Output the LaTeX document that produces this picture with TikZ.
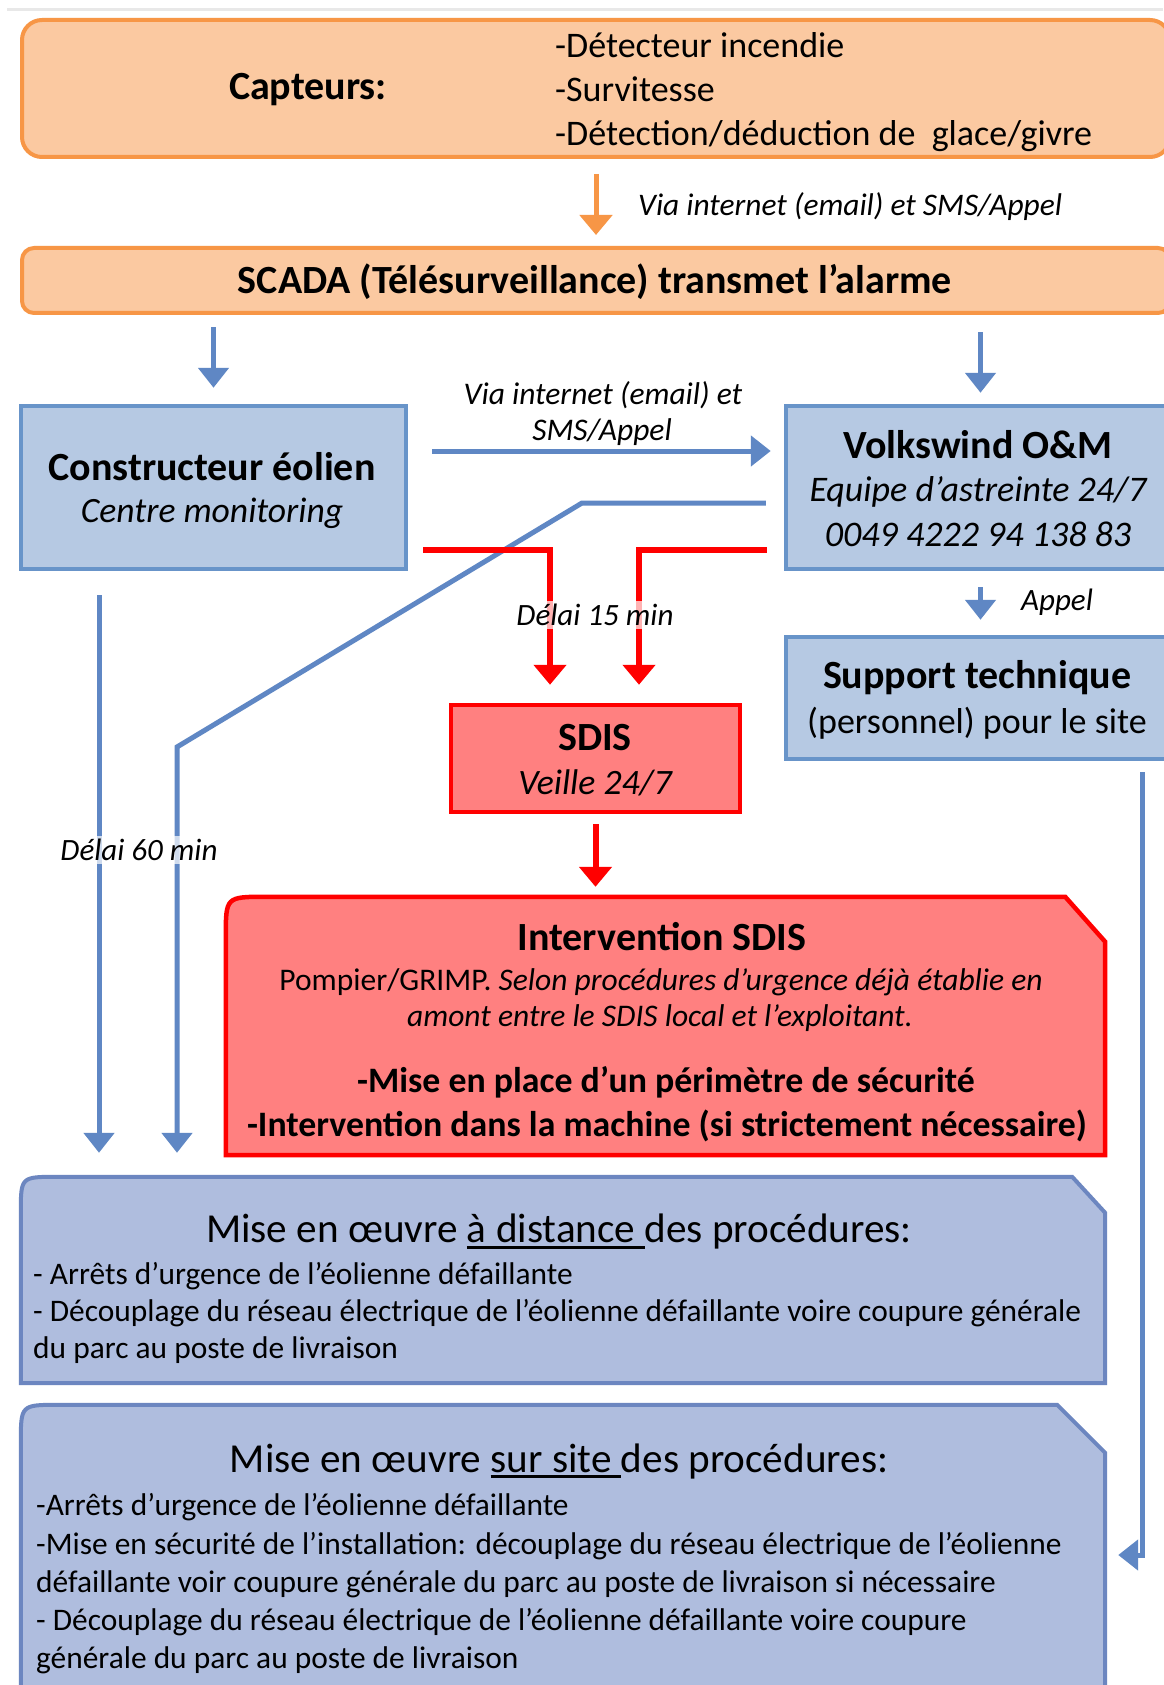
\documentclass[tikz,border=0pt]{standalone}
\usepackage{fontspec}
\setmainfont{Carlito}
\usetikzlibrary{arrows.meta}
\definecolor{orangefill}{HTML}{FBC9A1}
\definecolor{orangeline}{HTML}{F79646}
\definecolor{bluefill}{HTML}{B6C9E3}
\definecolor{blueline}{HTML}{6894C9}
\definecolor{lavfill}{HTML}{AFBDDE}
\definecolor{lavline}{HTML}{6C86C0}
\definecolor{wire}{HTML}{5F87C4}
\definecolor{redfill}{HTML}{FF8080}
\definecolor{alarmred}{HTML}{FF0000}
\definecolor{rulegray}{HTML}{E8E8E8}
\newcommand{\fsz}[2]{\fontsize{#1}{#2}\selectfont}
\newcommand{\undl}[1]{\setbox0=\hbox{#1}\rlap{\rule[-6pt]{\wd0}{3pt}}\box0}

\begin{document}
\begin{tikzpicture}[x=1pt,y=-1pt,
    obox/.style={draw=orangeline,fill=orangefill,line width=4pt,rounded corners=20pt,inner sep=0pt},
    bbox/.style={draw=blueline,fill=bluefill,line width=4.5pt,inner sep=0pt},
    rbox/.style={draw=alarmred,fill=redfill,line width=4.5pt,inner sep=0pt},
    lbox/.style={draw=lavline,fill=lavfill,line width=4pt},
    frame/.style={inner sep=0pt},
    txt/.style={inner sep=0pt,text=black},
    veil/.style={fill=white,fill opacity=0.7,text opacity=1,inner sep=3pt},
    oarrow/.style={draw=orangeline,line width=5pt,-{Triangle[length=20pt,width=32pt]}},
    barrow/.style={draw=wire,line width=5pt,-{Triangle[length=20pt,width=30pt]}},
    rarrow/.style={draw=alarmred,line width=6pt,-{Triangle[length=20pt,width=32pt]}}]
  \useasboundingbox (0,0) rectangle (1163,1685);
  \fill[white] (0,0) rectangle (1163,1685);
  \draw[rulegray,line width=3pt] (7,10) -- (1163,10);

  % boxes
  \node[obox,minimum width=1148pt,minimum height=137pt] (capt) at (596,88.5) {};
  \node[obox,rounded corners=12pt,minimum width=1148pt,minimum height=65pt] (scada) at (596,280.5) {};
  \node[bbox,minimum width=385pt,minimum height=163pt] (constr) at (213.5,487.5) {};
  \node[bbox,minimum width=389pt,minimum height=163pt] (volks) at (980.5,487.5) {};
  \node[bbox,minimum width=389pt,minimum height=122pt] (support) at (980.5,698) {};
  \node[rbox,minimum width=289pt,minimum height=107pt] (sdis) at (595.5,758.5) {};
  \node[frame,minimum width=879pt,minimum height=258pt] (interv) at (665.5,1026) {};
  \node[frame,minimum width=1084pt,minimum height=206pt] (dist) at (563,1280) {};
  \node[frame,minimum width=1084pt,minimum height=295pt] (site) at (563,1552.5) {};
  \draw[rbox] (interv.south west) -- ([yshift=-40pt]interv.north west)
    .. controls (interv.north west) .. ([xshift=40pt]interv.north west)
    -- ([xshift=-40pt]interv.north east) -- ([yshift=-45pt]interv.north east)
    -- (interv.south east) -- cycle;
  \draw[lbox] (dist.south west) -- ([yshift=-36pt]dist.north west)
    .. controls (dist.north west) .. ([xshift=36pt]dist.north west)
    -- ([xshift=-33pt]dist.north east) -- ([yshift=-36pt]dist.north east)
    -- (dist.south east) -- cycle;
  \draw[lbox] (site.south west) -- ([yshift=-38pt]site.north west)
    .. controls (site.north west) .. ([xshift=38pt]site.north west)
    -- ([xshift=-48pt]site.north east) -- ([yshift=-48pt]site.north east)
    -- (site.south east) -- cycle;

  % connectors
  \coordinate (lft) at (99,0);
  \coordinate (bendA) at (582,503);
  \coordinate (bendB) at (177,747);
  \coordinate (rgt) at (1142,1555);
  \draw[oarrow,shorten <=15pt,shorten >=11pt] (capt) -- (scada);
  \draw[barrow,shorten <=12pt,shorten >=16pt] (scada.south -| constr) -- (constr);
  \draw[barrow,shorten <=17pt,shorten >=11pt] (scada.south -| volks) -- (volks);
  \draw[barrow,shorten <=24pt,shorten >=13pt] ([yshift=36.5pt]constr.east) -- ([yshift=36.5pt]volks.west);
  \draw[barrow,shorten <=18pt,shorten >=24pt] ([yshift=-15.5pt]volks.west) -- (bendA) -- (bendB) -- (dist.north -| bendB);
  \draw[barrow,shorten <=24pt,shorten >=24pt] (constr.south -| lft) -- (dist.north -| lft);
  \draw[barrow,shorten <=16pt,shorten >=15pt] (volks) -- (support);
  \draw[barrow,shorten <=11pt,shorten >=13pt] (support.south -| rgt) -- (rgt) -- (site.east |- rgt);
  \draw[rarrow,shorten <=15pt,shorten >=18pt] ([yshift=-62.5pt]constr.east) -| ([xshift=-45.5pt]sdis.north);
  \draw[rarrow,shorten <=17pt,shorten >=18pt] ([yshift=-62.5pt]volks.west) -| ([xshift=43.5pt]sdis.north);
  \draw[rarrow,shorten <=10pt,shorten >=10pt] (sdis) -- (sdis |- interv.north);

  % texts
  \node[txt,font=\fsz{40}{48}\bfseries] (captT) at (308,90) {Capteurs:};
  \node[txt,anchor=west,align=left,font=\fsz{36}{44}] (captL) at (555,92)
    {-Détecteur incendie\\-Survitesse\\-Détection/déduction de\ \ glace/givre};
  \node[txt,anchor=west,font=\fsz{31.4}{37}\itshape] (viaA) at (638,207) {Via internet (email) et SMS/Appel};
  \node[txt,font=\fsz{40}{48}\bfseries] (scadaT) at (595,282) {SCADA (Télésurveillance) transmet l’alarme};
  \node[txt,font=\fsz{40}{48}\bfseries] (constrT) at (212,467) {Constructeur éolien};
  \node[txt,font=\fsz{35.6}{42}\itshape] (constrS) at (212,513) {Centre monitoring};
  \node[txt,font=\fsz{31.5}{37}\itshape] (viaB) at (603,395) {Via internet (email) et};
  \node[txt,font=\fsz{31.5}{37}\itshape] (viaC) at (602,432) {SMS/Appel};
  \node[txt,font=\fsz{40}{48}\bfseries] (volksT) at (978,445) {Volkswind O\&M};
  \node[txt,font=\fsz{36}{43}\itshape] (volksS) at (978,492) {Equipe d’astreinte 24/7};
  \node[txt,font=\fsz{36}{43}\itshape] (volksP) at (978,534) {0049 4222 94 138 83};
  \node[txt,veil,font=\fsz{31}{37}\itshape] (delaiA) at (595,615) {Délai 15 min};
  \node[txt,font=\fsz{31}{37}\itshape] (appel) at (1057,602) {Appel};
  \node[txt,font=\fsz{40}{48}\bfseries] (supportT) at (977,678) {Support technique};
  \node[txt,font=\fsz{36}{43}] (supportS) at (977,723) {(personnel) pour le site};
  \node[txt,font=\fsz{40}{48}\bfseries] (sdisT) at (595,738) {SDIS};
  \node[txt,font=\fsz{35.7}{43}\itshape] (sdisS) at (595,783) {Veille 24/7};
  \node[txt,veil,font=\fsz{31}{37}\itshape] (delaiB) at (139,850) {Délai 60 min};
  \node[txt,font=\fsz{40}{48}\bfseries] (intervT) at (662,937) {Intervention SDIS};
  \node[txt,font=\fsz{31.5}{38}] (intervA) at (661,982) {Pompier/GRIMP. \textit{Selon procédures d’urgence déjà établie en}};
  \node[txt,font=\fsz{31.5}{38}\itshape] (intervB) at (660,1018) {amont entre le SDIS local et l’exploitant.};
  \node[txt,font=\fsz{35.8}{44}\bfseries] (intervC) at (666,1082) {-Mise en place d’un périmètre de sécurité};
  \node[txt,font=\fsz{35.8}{44}\bfseries] (intervD) at (667,1126) {-Intervention dans la machine (si strictement nécessaire)};
  \node[txt,font=\fsz{41.2}{49}] (distT) at (559,1232) {Mise en œuvre \undl{à distance\ }des procédures:};
  \node[txt,anchor=west,align=left,font=\fsz{31.4}{37}] (distL) at (33,1313)
    {- Arrêts d’urgence de l’éolienne défaillante\\- Découplage du réseau électrique de l’éolienne défaillante voire coupure générale\\du parc au poste de livraison};
  \node[txt,font=\fsz{41.2}{49}] (siteT) at (559,1461) {Mise en œuvre \undl{sur site\ }des procédures:};
  \node[txt,anchor=west,align=left,font=\fsz{31.4}{38.2}] (siteL) at (36,1584)
    {-Arrêts d’urgence de l’éolienne défaillante\\-Mise en sécurité de l’installation: découplage du réseau électrique de l’éolienne\\défaillante voir coupure générale du parc au poste de livraison si nécessaire\\- Découplage du réseau électrique de l’éolienne défaillante voire coupure\\générale du parc au poste de livraison};
\end{tikzpicture}
\end{document}
